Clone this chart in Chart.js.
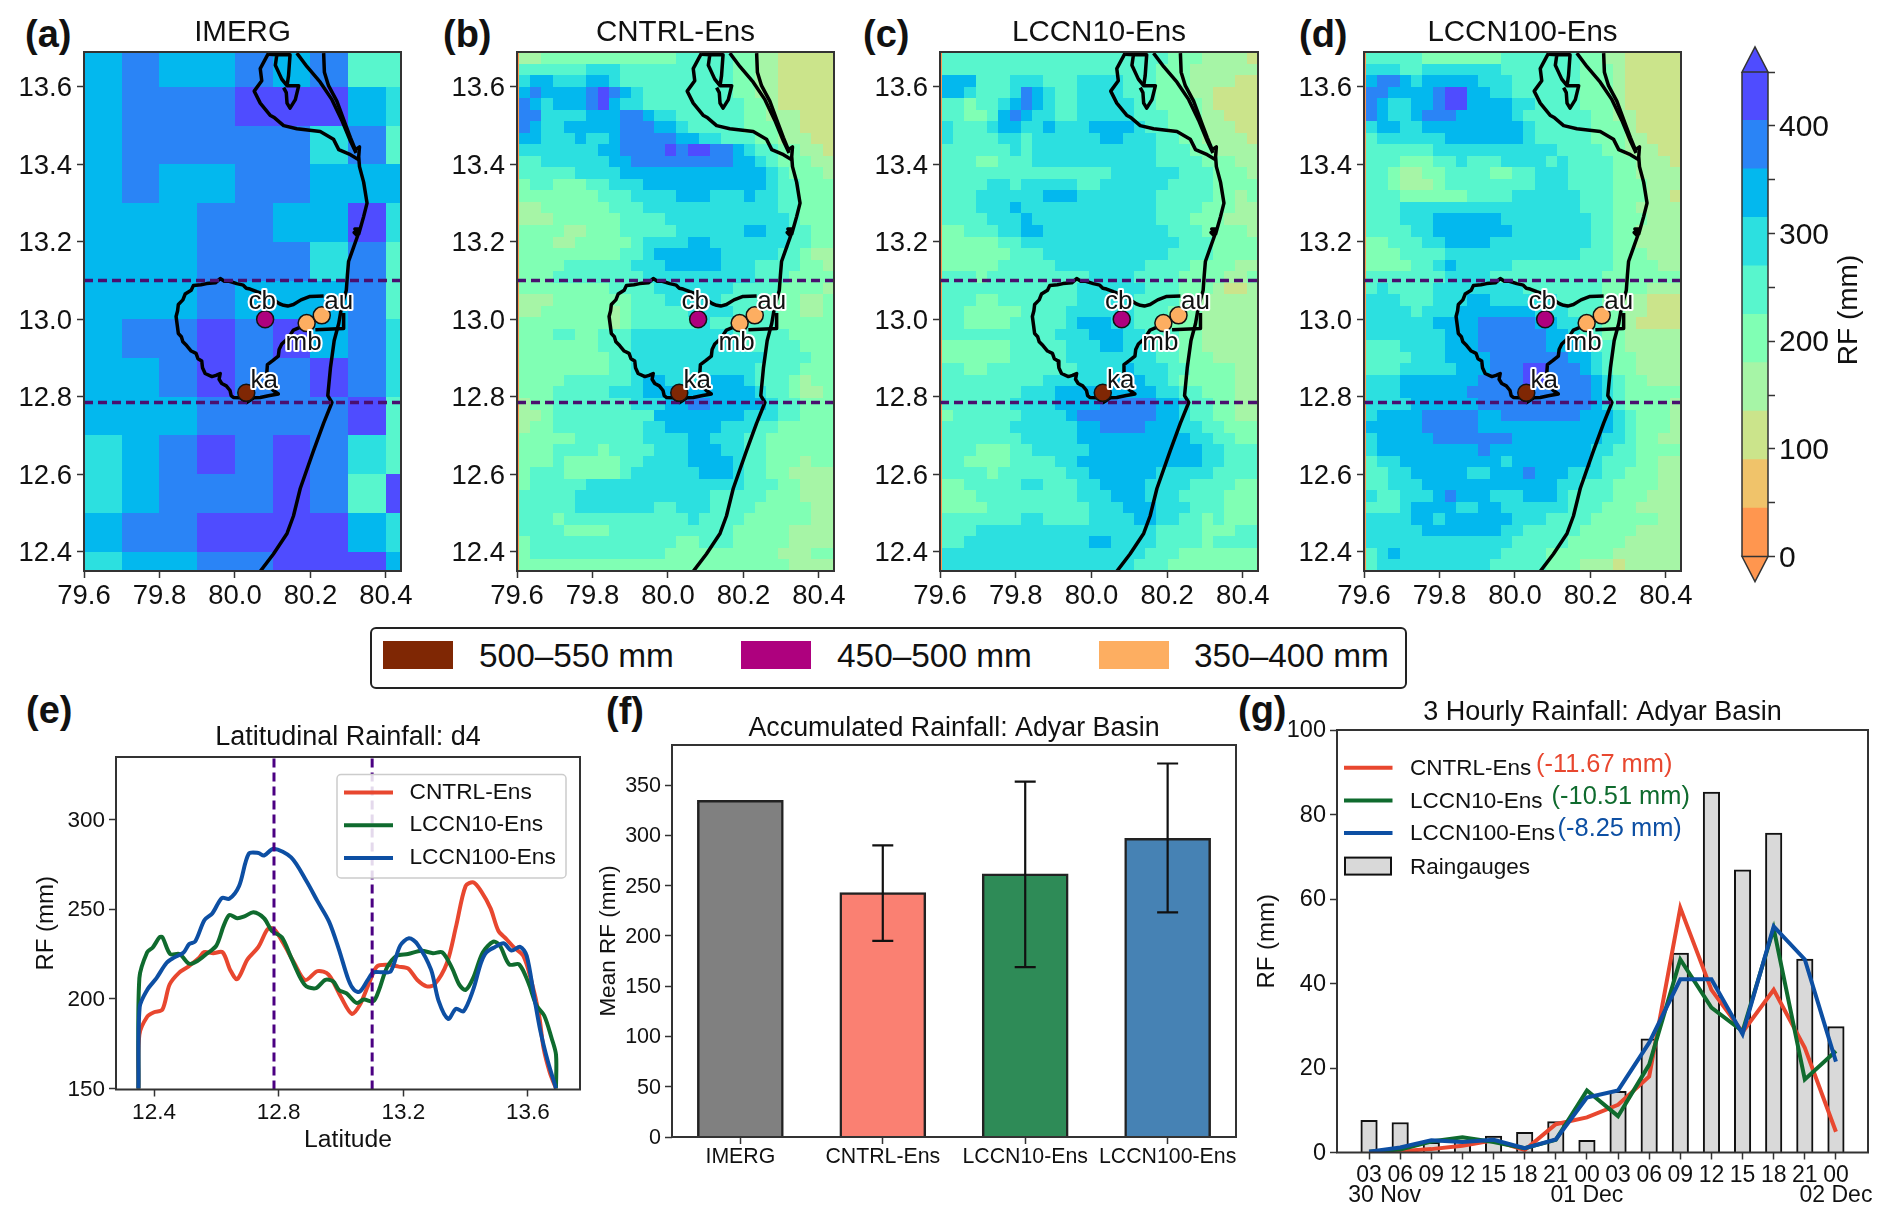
<!DOCTYPE html>
<html>
<head>
<meta charset="utf-8">
<script src="https://cdn.jsdelivr.net/npm/chart.js@4/dist/chart.umd.min.js"></script>
<style>
  html, body { margin: 0; padding: 0; background: #fff; width: 1892px; height: 1224px; overflow: hidden; }
  body { position: relative; font-family: "Liberation Sans", sans-serif; color: #111; }
  .tag { position: absolute; font-weight: bold; font-size: 38px; line-height: 40px; }
  #legend { position: absolute; left: 370px; top: 627px; width: 1033px; height: 58px; border: 2px solid #222; border-radius: 6px; box-sizing: content-box; }
  #legend i { position: absolute; top: 12px; width: 70px; height: 28px; }
  #legend span { position: absolute; top: 7px; font-size: 33.4px; line-height: 40px; white-space: nowrap; }
</style>
</head>
<body>
<div class="tag" style="left:25px;top:14px">(a)</div>
<div class="tag" style="left:443px;top:14px">(b)</div>
<div class="tag" style="left:863px;top:14px">(c)</div>
<div class="tag" style="left:1299px;top:14px">(d)</div>
<div class="tag" style="left:26px;top:690px">(e)</div>
<div class="tag" style="left:606px;top:691px">(f)</div>
<div class="tag" style="left:1238px;top:690px">(g)</div>
<div id="legend">
  <i style="left:11px;background:#7f2704"></i><span style="left:107px">500–550 mm</span>
  <i style="left:369px;background:#ae017e"></i><span style="left:465px">450–500 mm</span>
  <i style="left:727px;background:#fdae61"></i><span style="left:822px">350–400 mm</span>
</div>
<script>
Chart.defaults.font.family = '"Liberation Sans", Arial, sans-serif'
Chart.defaults.color = '#111'
Chart.defaults.animation = false

// colour bins of the maps, 45 mm wide
const rfLevels = [0, 45, 90, 135, 180, 225, 270, 315, 360, 405, 450]
const rfColors = ['#ff964f', '#f0c36a', '#cbe48b', '#a6f5a6', '#80ffb4', '#58f6cd', '#2ce0e0', '#03b8ee', '#2a84f6', '#4f4cff']

// IMERG cells (bin index per cell, north to south)
const imergLon = [79.6, 79.7, 79.8, 79.9, 80.0, 80.1, 80.2, 80.3, 80.4, 80.44]
const imergLat = [13.69, 13.6, 13.5, 13.4, 13.3, 13.2, 13.1, 13.0, 12.9, 12.8, 12.7, 12.6, 12.5, 12.4, 12.35]
const imergBins = [
  '787787855',
  '788899976',
  '788888685',
  '787788777',
  '777887796',
  '777888685',
  '777877785',
  '788989786',
  '778988986',
  '777888895',
  '678989865',
  '678889859',
  '788999976',
  '677889997',
]

// model runs, 28 columns x 45 rows
const cntrlBins = [
  '3344444 4444444 5555544 3322222',
  '5555556 6655555 5555544 3322222',
  '6776667 7655555 5555544 3322222',
  '7877778 9876555 5555544 3322222',
  '8767778 9766555 5555554 4322222',
  '8866667 7788766 5555554 4333222',
  '8766777 7788877 6555554 4433222',
  '7766676 6788888 7766555 4433322',
  '6666666 7788889 8998876 5544332',
  '5566666 6778888 8888877 6544433',
  '5555566 6677777 7777777 7654443',
  '4554445 5666777 7777777 7655444',
  '4444444 5556666 7776667 6655444',
  '3344444 4555666 6666666 6655444',
  '3334444 4455556 6666666 6665444',
  '4444334 4455555 6666667 7665544',
  '4443344 4445666 6776666 6665544',
  '4444444 4455677 7777666 6655433',
  '4444555 5556667 7777666 5555443',
  '4445555 5555666 6666666 5554444',
  '4444444 4555566 6666655 5544443',
  '3334444 4445556 6666555 5444334',
  '3344444 4345555 5666655 5544334',
  '4444444 4345555 5565555 5544444',
  '4445544 5556666 6666655 5554444',
  '4444444 5556666 6666665 5555444',
  '4444444 4556666 6666666 6555544',
  '4444444 4556666 6666666 5555444',
  '4444555 5556776 6667776 5554344',
  '4445555 5666777 7777777 6554334',
  '3445555 5556667 7887777 7655444',
  '3345555 5555577 7777776 6655444',
  '3445555 5555667 7777666 5544444',
  '4444455 5555666 6776665 5444444',
  '4445555 4555566 6777665 5444444',
  '4445444 4455666 6777765 5444344',
  '4555444 4456666 6677765 5443333',
  '4555556 6666666 6666665 5544333',
  '5555566 6666666 6665555 5444333',
  '5555566 6666655 6665555 4444433',
  '5554555 5555555 5655554 4444433',
  '5555444 4555555 5555544 4443333',
  '4555555 5555555 4455544 4443333',
  '4555555 5555554 4444444 4433344',
  '4444444 4444444 4444444 4443333',
]
const lccn10Bins = [
  '5555555 5555555 5555554 4433332',
  '5555555 5555555 5555544 4333333',
  '7775556 6655566 6655544 4333322',
  '7765556 8765566 6655544 4332222',
  '5545567 8765566 6665544 4432222',
  '5544578 7665566 6665554 4433222',
  '6555677 6676667 7776554 4433322',
  '6555566 5666666 7766655 4433332',
  '5555556 5666666 6666655 5443333',
  '5554455 5666666 6666655 5544433',
  '5555555 5555555 5666666 5554443',
  '5555665 6666655 6666665 5554444',
  '5556666 6677766 6666655 5554434',
  '5556667 6666666 6666655 5544433',
  '5555666 7666666 6666655 5444333',
  '4455566 7766666 6666665 5544443',
  '4444455 6666666 6666666 5554444',
  '4444445 5566666 6666665 5554444',
  '4444455 5556666 6666555 5444433',
  '5554555 5555556 6665555 4444334',
  '5555555 5555566 6666555 4443223',
  '5554455 5555566 6665555 4433333',
  '5544444 5555666 6665554 4433333',
  '5544445 5555677 7665554 4433333',
  '5555555 5556667 7766555 4433333',
  '4444445 5555666 7766655 4433333',
  '4444445 5555666 6666655 4443333',
  '5544555 5555566 6676665 5444433',
  '5555555 5566666 6777665 4444433',
  '5555555 6667777 7777766 5544433',
  '5555556 6667777 8888877 6554433',
  '4555555 6666788 8888877 6554433',
  '5555556 6666677 8888777 6655444',
  '5555555 6666677 7777777 7665544',
  '5554445 5666667 7777777 7766555',
  '5544445 5556677 7777777 7766555',
  '5555455 5555667 7777766 6665555',
  '4455555 6655566 7777666 6555544',
  '4445555 5555566 6777666 5555444',
  '4444555 5555556 6677766 6555444',
  '5555555 6655556 6667766 5545444',
  '5556666 6666666 6666655 5544455',
  '5566666 6666667 7666655 5545555',
  '6666666 6666666 6666555 4444444',
  '6666666 6666666 6665554 4444444',
]
const lccn100Bins = [
  '5555544 4444455 5555544 3322222',
  '6665566 6666655 5555544 4322222',
  '7887677 7776665 5555544 4322222',
  '8877778 9977665 5555544 4322222',
  '8766778 9977776 6555544 4322222',
  '8766788 8777776 5555554 4332222',
  '6776677 7777777 6555554 4432222',
  '5666666 7777777 6555554 4433222',
  '5555556 6666666 6665555 4433322',
  '5554445 5655566 6656555 5443332',
  '5543344 5555445 5666555 5443333',
  '5543334 5555555 5666555 5444333',
  '5554444 4455556 6666655 5444332',
  '5556666 6666666 6666655 5443333',
  '5556667 7777766 6666665 5444333',
  '5555667 7777776 6666665 5443333',
  '4455566 7777666 6666665 5443333',
  '4445555 6666666 6666655 5444333',
  '4444556 7666665 5555555 5444433',
  '5555555 6666555 5555555 4444444',
  '5655556 6666666 5555555 4444333',
  '6665556 6677666 6665555 4433222',
  '6666566 6777777 7666555 4433222',
  '6666667 7778888 8776655 4432222',
  '6666666 7778888 8877655 4433333',
  '5556666 7778888 8877765 5433333',
  '5555666 7777888 8888776 5443333',
  '5556666 6777888 9988876 5443333',
  '6667777 7778888 9988887 6544333',
  '6667777 7788888 8888887 6544444',
  '6666777 7778888 8888887 6544443',
  '6777788 8887788 8888877 7654443',
  '7777788 8887777 7777777 7654443',
  '6777778 8888887 7777777 6654433',
  '6777777 7778777 7777776 6554444',
  '5667777 7777767 7777776 5554433',
  '5566777 7766777 8777666 5544433',
  '5566677 7777777 7776655 5444433',
  '6556667 8777666 7776555 5444333',
  '5556777 7667766 6666555 4443333',
  '6666776 7777776 6655554 4444433',
  '6666677 7777766 5555544 4443333',
  '6666666 6666665 5555444 4433333',
  '5676666 6666655 5544444 4333333',
  '5666666 6666555 5544433 3233333',
]

// coastline and basin outline, degrees
const coastLon = [80.235, 80.237, 80.248, 80.27, 80.292, 80.306, 80.319, 80.33, 80.328, 80.33, 80.341, 80.35, 80.341, 80.328, 80.318, 80.33, 80.316, 80.325, 80.314, 80.301, 80.298, 80.295, 80.283, 80.275, 80.263, 80.253, 80.246, 80.257, 80.235, 80.208, 80.173, 80.155, 80.138, 80.102, 80.067]
const coastLat = [13.687, 13.638, 13.603, 13.563, 13.505, 13.469, 13.438, 13.445, 13.42, 13.394, 13.354, 13.3, 13.265, 13.22, 13.233, 13.233, 13.224, 13.215, 13.185, 13.149, 13.114, 13.074, 13.034, 12.989, 12.945, 12.874, 12.803, 12.785, 12.732, 12.66, 12.563, 12.492, 12.447, 12.394, 12.349]
const lagoonLon = [80.089, 80.067, 80.071, 80.051, 80.067, 80.093, 80.105, 80.129, 80.164, 80.198, 80.226, 80.261, 80.275, 80.306, 80.328]
const lagoonLat = [13.687, 13.647, 13.616, 13.589, 13.558, 13.527, 13.52, 13.5, 13.492, 13.488, 13.485, 13.465, 13.438, 13.425, 13.412]
const spitLon = [80.164, 80.191, 80.226, 80.257, 80.283, 80.306, 80.321]
const spitLat = [13.687, 13.652, 13.612, 13.567, 13.514, 13.46, 13.429]
const islandLon = [80.089, 80.111, 80.107, 80.124, 80.138, 80.169, 80.16, 80.146, 80.138, 80.136, 80.129]
const islandLat = [13.684, 13.683, 13.656, 13.62, 13.603, 13.603, 13.567, 13.545, 13.558, 13.585, 13.598]
const islandTopLon = [80.111, 80.146, 80.142, 80.138]
const islandTopLat = [13.683, 13.683, 13.629, 13.603]
const basinLon = [80.235, 80.199, 80.175, 80.155, 80.14, 80.129, 80.118, 80.107, 80.09, 80.076, 80.058, 80.04, 80.03, 80.022, 80.005, 79.985, 79.972, 79.961, 79.948, 79.925, 79.91, 79.89, 79.884, 79.868, 79.862, 79.85, 79.848, 79.844, 79.847, 79.85, 79.858, 79.862, 79.872, 79.884, 79.897, 79.902, 79.912, 79.914, 79.921, 79.939, 79.95, 79.961, 79.958, 79.965, 79.977, 79.987, 79.99, 79.996, 80.015, 80.031, 80.05, 80.067, 80.092, 80.115, 80.102, 80.089, 80.084, 80.086, 80.1, 80.115, 80.117, 80.124, 80.14, 80.155, 80.175, 80.195]
const basinLat = [13.06, 13.059, 13.05, 13.038, 13.034, 13.036, 13.04, 13.047, 13.058, 13.065, 13.071, 13.078, 13.08, 13.088, 13.092, 13.098, 13.098, 13.105, 13.094, 13.092, 13.089, 13.087, 13.075, 13.065, 13.05, 13.038, 13.022, 13.007, 12.985, 12.963, 12.955, 12.942, 12.932, 12.918, 12.912, 12.898, 12.892, 12.875, 12.86, 12.852, 12.855, 12.86, 12.845, 12.834, 12.828, 12.816, 12.803, 12.798, 12.797, 12.785, 12.797, 12.798, 12.803, 12.807, 12.816, 12.829, 12.855, 12.883, 12.893, 12.905, 12.922, 12.936, 12.95, 12.972, 12.98, 12.988]
const cityBoxLon = [80.213, 80.288, 80.288]
const cityBoxLat = [12.973, 12.976, 13.016]
const latBandEdges = [12.785, 13.1]

// raingauge stations
const stationNames = ['cb', 'ka', 'mb', 'au']
const stationLon = [80.08, 80.03, 80.19, 80.23]
const stationLat = [13.0, 12.81, 12.99, 13.01]
const stationColors = ['#ae017e', '#7f2704', '#fdae61', '#fdae61']

// (e) latitudinal rainfall
const cntrlLat = [12.35, 12.353, 12.378, 12.4, 12.427, 12.45, 12.48, 12.51, 12.545, 12.56, 12.59, 12.62, 12.645, 12.667, 12.7, 12.735, 12.765, 12.785, 12.815, 12.85, 12.885, 12.925, 12.96, 13.0, 13.035, 13.06, 13.09, 13.115, 13.145, 13.185, 13.215, 13.245, 13.275, 13.3, 13.34, 13.37, 13.4, 13.425, 13.45, 13.48, 13.505, 13.53, 13.555, 13.585, 13.61, 13.635, 13.65, 13.67, 13.69]
const cntrlLatRf = [150, 180, 190, 192.5, 194, 208, 214.5, 218, 223, 226, 225.5, 226, 216, 211, 222, 229, 239, 239, 231, 220, 210.5, 215.5, 213.5, 201, 191.6, 196.5, 208.7, 218, 219, 218, 217, 210.5, 207, 208, 220, 241, 263, 265, 260, 250.5, 238, 233.5, 228.7, 224, 210.6, 191.6, 172.6, 159, 150]
const lccn10Lat = [12.35, 12.353, 12.378, 12.396, 12.418, 12.427, 12.452, 12.482, 12.513, 12.538, 12.568, 12.6, 12.624, 12.642, 12.667, 12.69, 12.719, 12.753, 12.778, 12.81, 12.84, 12.87, 12.889, 12.92, 12.95, 12.975, 12.993, 13.018, 13.05, 13.073, 13.104, 13.122, 13.147, 13.178, 13.215, 13.258, 13.295, 13.325, 13.356, 13.38, 13.4, 13.424, 13.455, 13.489, 13.51, 13.54, 13.572, 13.602, 13.627, 13.652, 13.676, 13.69, 13.69]
const lccn10LatRf = [150, 211.6, 226, 228.7, 234.4, 234.4, 225, 225, 219.6, 221, 225, 229.7, 241, 246.8, 245, 246, 248.3, 245, 238, 234.4, 223, 211.6, 207, 206, 210.6, 209.7, 205, 203, 197.7, 199.6, 198.7, 205, 217.3, 224, 225, 226.8, 225.5, 225.9, 217.3, 207.8, 205, 211.6, 225.9, 232, 229.7, 219.2, 219.2, 208.7, 196.4, 190.7, 178, 168.8, 150]
const lccn100Lat = [12.35, 12.354, 12.378, 12.408, 12.44, 12.464, 12.495, 12.513, 12.532, 12.562, 12.587, 12.618, 12.642, 12.673, 12.704, 12.735, 12.753, 12.784, 12.84, 12.889, 12.925, 12.962, 12.993, 13.024, 13.042, 13.06, 13.086, 13.104, 13.135, 13.16, 13.19, 13.218, 13.245, 13.289, 13.313, 13.344, 13.369, 13.393, 13.424, 13.449, 13.467, 13.492, 13.522, 13.547, 13.575, 13.596, 13.62, 13.64, 13.664, 13.69]
const lccn100LatRf = [150, 195.4, 205, 211.6, 220, 223, 225.9, 230.6, 232, 244, 247.7, 256.3, 255.9, 263, 281, 281.4, 280, 283.8, 279, 265.8, 254.4, 243, 227.8, 210.6, 205, 204, 210.6, 214.8, 214.8, 215.4, 229.7, 233.8, 230.6, 216.3, 199, 188.8, 194.5, 193, 205, 220, 226, 228.7, 231, 227, 229, 224, 201, 182, 165, 150]
const seriesNames = ['CNTRL-Ens', 'LCCN10-Ens', 'LCCN100-Ens']
const seriesColors = ['#e8472f', '#0f6b2e', '#0d4fa3']

// (f) accumulated rainfall
const basinRuns = ['IMERG', 'CNTRL-Ens', 'LCCN10-Ens', 'LCCN100-Ens']
const basinMean = [334.8, 243, 261.6, 297]
const basinErrLow = [null, 195, 169, 223.3]
const basinErrHigh = [null, 290, 353.4, 371.4]
const basinColors = ['#808080', '#fa8072', '#2e8b57', '#4682b4']

// (g) 3 hourly rainfall
const hourLabels = ['03', '06', '09', '12', '15', '18', '21', '00', '03', '06', '09', '12', '15', '18', '21', '00']
const dayLabels = ['30 Nov', '01 Dec', '02 Dec']
const dayTicks = [0.5, 7, 15]
const gaugeRain = [7.6, 7.1, 2.4, 2.7, 3.9, 4.8, 7.3, 2.9, 14.5, 26.9, 47.2, 85.3, 66.9, 75.6, 45.8, 29.8]
const cntrlRain = [0.2, 0.3, 0.8, 1.6, 2.9, 0.6, 6.7, 8.3, 11.3, 18, 57.9, 38.5, 28.5, 38.5, 24.8, 4.9]
const lccn10Rain = [0.2, 0.7, 2.6, 3.6, 2.5, 1, 3, 14.7, 8.6, 20.8, 45.7, 34.3, 28.7, 53, 17.3, 24]
const lccn100Rain = [0.2, 1.2, 2.9, 2.5, 3, 1, 3.1, 13, 14.7, 26, 41, 41, 28, 53.5, 45.7, 21.5]
const biasLabels = ['(-11.67 mm)', '(-10.51 mm)', '(-8.25 mm)']

const zip = (xs, ys) => xs.map((x, i) => ({ x, y: ys[i] }))

const addCanvas = (l, t, r, b) => {
  const c = document.createElement('canvas')
  c.width = r - l
  c.height = b - t
  c.style.cssText = `position:absolute;left:${l}px;top:${t}px`
  document.body.appendChild(c)
  return c
}

const axis = (min, max, tickValues, fmt, size, fontSize, padding, extra) => ({
  type: 'linear',
  min,
  max,
  offset: false,
  afterBuildTicks: (s) => { s.ticks = tickValues.map((value) => ({ value })) },
  afterFit: (s) => { if (s.isHorizontal()) s.height = size; else s.width = size },
  ticks: { callback: fmt, font: { size: fontSize }, color: '#111', padding, maxRotation: 0, autoSkip: false },
  grid: { offset: false, drawOnChartArea: false, tickLength: 7, tickWidth: 1.5, tickColor: '#333' },
  border: { display: false },
  ...extra,
})
const yNudge = (px, ax) => { ax.ticks.labelOffset = px; return ax }

const titleCfg = (text, size, cy, plotTop, marginTop) => {
  const bottom = Math.max(0, plotTop - cy - 0.6 * size)
  return { display: true, text, fullSize: false, color: '#111', font: { size, weight: 'normal', lineHeight: 1.2 }, padding: { top: marginTop - 1.2 * size - bottom, bottom } }
}

const frame = {
  id: 'frame',
  afterDatasetsDraw: (chart) => {
    const { ctx, chartArea: a } = chart
    ctx.save()
    ctx.strokeStyle = '#333'
    ctx.lineWidth = 2
    ctx.strokeRect(a.left, a.top, a.right - a.left, a.bottom - a.top)
    ctx.restore()
  },
}

const cells = {
  id: 'cells',
  beforeDatasetsDraw: (chart, args, opts) => {
    const { ctx, scales: { x, y } } = chart
    opts.rows.forEach((row, r) => {
      const top = Math.round(y.getPixelForValue(opts.lat[r]))
      const bottom = Math.round(y.getPixelForValue(opts.lat[r + 1]))
      row.split('').forEach((bin, c) => {
        const left = Math.round(x.getPixelForValue(opts.lon[c]))
        const right = Math.round(x.getPixelForValue(opts.lon[c + 1]))
        ctx.fillStyle = rfColors[+bin]
        ctx.fillRect(left, top, right - left, bottom - top)
      })
    })
  },
}

const labelOffsets = [[-3, -17], [18, -12], [-3, 20], [17, -14]]
const stationText = {
  id: 'stationText',
  afterDatasetsDraw: (chart) => {
    const { ctx, scales: { x, y } } = chart
    ctx.save()
    ctx.font = '26px "Liberation Sans"'
    ctx.textAlign = 'center'
    ctx.textBaseline = 'middle'
    ctx.lineJoin = 'round'
    stationNames.forEach((name, i) => {
      const px = x.getPixelForValue(stationLon[i]) + labelOffsets[i][0]
      const py = y.getPixelForValue(stationLat[i]) + labelOffsets[i][1]
      ctx.strokeStyle = '#fff'
      ctx.lineWidth = 4
      ctx.strokeText(name, px, py)
      ctx.fillStyle = '#111'
      ctx.fillText(name, px, py)
    })
    ctx.restore()
  },
}

const outline = (lon, lat) => ({ data: zip(lon, lat), showLine: true, borderColor: '#000', borderWidth: 3.5, borderJoinStyle: 'round', pointRadius: 0, tension: 0 })

const drawMap = (title, rows, lon, lat, left, right) => {
  const top = 52, bottom = 571
  const canvas = addCanvas(left - 70, top - 45, right + 20, bottom + 45)
  new Chart(canvas, {
    type: 'scatter',
    data: {
      datasets: [
        { data: zip(stationLon, stationLat), pointRadius: 8.5, pointBackgroundColor: stationColors, pointBorderColor: '#111', pointBorderWidth: 1.5, showLine: false },
        ...latBandEdges.map((v) => ({ data: zip([79.6, 80.44], [v, v]), showLine: true, borderColor: '#4a0f6f', borderWidth: 3.5, borderDash: [9, 5], pointRadius: 0 })),
        outline(coastLon, coastLat),
        outline(lagoonLon, lagoonLat),
        outline(spitLon, spitLat),
        outline(islandLon, islandLat),
        outline(islandTopLon, islandTopLat),
        outline(basinLon, basinLat),
        outline(cityBoxLon, cityBoxLat),
      ],
    },
    options: {
      responsive: false,
      layout: { padding: { right: 20 }, autoPadding: false },
      scales: {
        x: axis(79.6, 80.44, [79.6, 79.8, 80.0, 80.2, 80.4], (v) => v.toFixed(1), 45, 27.5, 2),
        y: yNudge(2, axis(12.35, 13.69, [12.4, 12.6, 12.8, 13.0, 13.2, 13.4, 13.6], (v) => v.toFixed(1), 70, 27.5, 5)),
      },
      plugins: {
        legend: { display: false },
        tooltip: { enabled: false },
        title: titleCfg(title, 29.5, 32.6, top, 45),
        cells: { rows, lon, lat },
      },
    },
    plugins: [cells, frame, stationText],
  })
}

// model grids share their edges, plus the thin strip along the west side
const modelLon = [79.6, ...Array.from({ length: 29 }, (_, i) => 79.605 + i * (80.44 - 79.605) / 28)]
const modelLat = Array.from({ length: 46 }, (_, i) => 13.69 - i * (13.69 - 12.35) / 45)
const modelRows = (rows) => rows.map((r) => '0' + r.replace(/ /g, ''))

drawMap('IMERG', imergBins, imergLon, imergLat, 84, 401)
drawMap('CNTRL-Ens', modelRows(cntrlBins), modelLon, modelLat, 517, 834)
drawMap('LCCN10-Ens', modelRows(lccn10Bins), modelLon, modelLat, 940, 1258)
drawMap('LCCN100-Ens', modelRows(lccn100Bins), modelLon, modelLat, 1364, 1681)

// colour bar
const barCaps = {
  id: 'barCaps',
  afterDatasetsDraw: (chart) => {
    const { ctx, chartArea: a, scales: { y } } = chart
    const tips = [[y.getPixelForValue(450), -25, rfColors[9]], [y.getPixelForValue(0), 25, rfColors[0]]]
    tips.forEach(([base, h, color]) => {
      ctx.beginPath()
      ctx.moveTo(a.left, base)
      ctx.lineTo((a.left + a.right) / 2, base + h)
      ctx.lineTo(a.right, base)
      ctx.closePath()
      ctx.fillStyle = color
      ctx.fill()
      ctx.strokeStyle = '#333'
      ctx.lineWidth = 1.5
      ctx.stroke()
    })
    ctx.save()
    ctx.translate(1849.5 - 1732, 310 - 42)
    ctx.rotate(-Math.PI / 2)
    ctx.font = '28px "Liberation Sans"'
    ctx.fillStyle = '#111'
    ctx.textAlign = 'center'
    ctx.textBaseline = 'middle'
    ctx.fillText('RF (mm)', 0, 0)
    ctx.restore()
    ctx.strokeStyle = '#333'
    ctx.lineWidth = 1.5
    ctx.beginPath()
    ctx.moveTo(a.left, a.top)
    ctx.lineTo(a.left, a.bottom)
    ctx.moveTo(a.right, a.top)
    ctx.lineTo(a.right, a.bottom)
    ctx.stroke()
  },
}

new Chart(addCanvas(1732, 42, 1892, 587), {
  type: 'bar',
  data: {
    labels: [''],
    datasets: rfColors.map((c, i) => ({ data: [[rfLevels[i], rfLevels[i + 1]]], backgroundColor: c, barPercentage: 1, categoryPercentage: 1, borderWidth: 0 })),
  },
  options: {
    responsive: false,
    layout: { padding: { left: 10, top: 30, bottom: 30.5 }, autoPadding: false },
    scales: {
      x: { display: false, stacked: true },
      y: yNudge(2, axis(0, 450, [0, 50, 100, 150, 200, 250, 300, 350, 400, 450], (v) => (v % 100 === 0 ? v : ''), 124, 30, 4, { position: 'right' })),
    },
    plugins: { legend: { display: false }, tooltip: { enabled: false } },
  },
  plugins: [barCaps],
})

// helpers for the hand placed legends
const put = (ctx, text, x, y, size, color) => {
  ctx.font = `${size}px "Liberation Sans"`
  ctx.fillStyle = color
  ctx.textAlign = 'left'
  ctx.textBaseline = 'middle'
  ctx.fillText(text, x, y)
}
const swatchLine = (ctx, x0, x1, y, color) => {
  ctx.strokeStyle = color
  ctx.lineWidth = 4
  ctx.beginPath()
  ctx.moveTo(x0, y)
  ctx.lineTo(x1, y)
  ctx.stroke()
}

// (e)
const eOrigin = [0, 717]
const eLegend = {
  id: 'eLegend',
  afterDatasetsDraw: (chart) => {
    const { ctx } = chart
    ctx.save()
    ctx.fillStyle = 'rgba(255,255,255,0.85)'
    ctx.strokeStyle = '#ccc'
    ctx.lineWidth = 1.5
    ctx.beginPath()
    ctx.roundRect(337, 774.5 - eOrigin[1], 229, 103.5, 4)
    ctx.fill()
    ctx.stroke()
    seriesNames.forEach((name, i) => {
      const y = 792.5 + 32.7 * i - eOrigin[1]
      swatchLine(ctx, 344, 393, y, seriesColors[i])
      put(ctx, name, 409.5, y, 22.7, '#111')
    })
    ctx.restore()
  },
}
const latLine = (xs, ys, color) => ({ data: zip(xs, ys), showLine: true, borderColor: color, borderWidth: 4, pointRadius: 0, tension: 0.3 })
new Chart(addCanvas(0, eOrigin[1], 600, 1160), {
  type: 'scatter',
  data: {
    datasets: [
      ...latBandEdges.map((v) => ({ data: zip([v, v], [149.4, 335]), showLine: true, borderColor: '#4b0082', borderWidth: 3, borderDash: [9, 5], pointRadius: 0 })),
      latLine(lccn100Lat, lccn100LatRf, seriesColors[2]),
      latLine(lccn10Lat, lccn10LatRf, seriesColors[1]),
      latLine(cntrlLat, cntrlLatRf, seriesColors[0]),
    ],
  },
  options: {
    responsive: false,
    layout: { padding: { right: 20 }, autoPadding: false },
    scales: {
      x: axis(12.278, 13.767, [12.4, 12.8, 13.2, 13.6], (v) => v.toFixed(1), 70.5, 22.5, 3, {
        title: { display: true, text: 'Latitude', font: { size: 24.7, lineHeight: 1.2 }, color: '#111', padding: { top: 0, bottom: 5 } },
      }),
      y: yNudge(1, axis(149.4, 335, [150, 200, 250, 300], (v) => v, 116, 22.5, 4, {
        title: { display: true, text: 'RF (mm)', font: { size: 24, lineHeight: 1.2 }, color: '#111', padding: { top: 32, bottom: 0 } },
      })),
    },
    plugins: { legend: { display: false }, tooltip: { enabled: false }, title: titleCfg('Latitudinal Rainfall: d4', 27, 737.7, 757, 40) },
  },
  plugins: [frame, eLegend],
})

// (f)
const errorBars = {
  id: 'errorBars',
  afterDatasetsDraw: (chart) => {
    const { ctx, scales: { x, y } } = chart
    ctx.save()
    ctx.strokeStyle = '#111'
    ctx.lineWidth = 2.2
    basinRuns.forEach((_, i) => {
      if (basinErrLow[i] === null) return
      const px = x.getPixelForValue(i)
      const lo = y.getPixelForValue(basinErrLow[i])
      const hi = y.getPixelForValue(basinErrHigh[i])
      ctx.beginPath()
      ctx.moveTo(px, lo)
      ctx.lineTo(px, hi)
      ctx.moveTo(px - 10.5, lo)
      ctx.lineTo(px + 10.5, lo)
      ctx.moveTo(px - 10.5, hi)
      ctx.lineTo(px + 10.5, hi)
      ctx.stroke()
    })
    ctx.restore()
  },
}
new Chart(addCanvas(590, 705, 1250, 1190), {
  type: 'bar',
  data: {
    datasets: [{
      data: zip(basinRuns.map((_, i) => i), basinMean),
      backgroundColor: basinColors,
      borderColor: '#222',
      borderWidth: 2.5,
      barThickness: 86,
    }],
  },
  options: {
    responsive: false,
    layout: { padding: { right: 14 }, autoPadding: false },
    scales: {
      x: axis(-0.48, 3.48, [0, 1, 2, 3], (v) => basinRuns[v], 53, 21.3, 0),
      y: yNudge(1, axis(0, 389.8, [0, 50, 100, 150, 200, 250, 300, 350], (v) => v, 82, 21.5, 4, {
        title: { display: true, text: 'Mean RF (mm)', font: { size: 22.5, lineHeight: 1.2 }, color: '#111', padding: { top: 5, bottom: 0 } },
      })),
    },
    plugins: { legend: { display: false }, tooltip: { enabled: false }, title: titleCfg('Accumulated Rainfall: Adyar Basin', 26.8, 729.5, 745, 40) },
  },
  plugins: [errorBars, frame],
})

// (g)
const gOrigin = [1252, 690]
const gLegend = {
  id: 'gLegend',
  afterDatasetsDraw: (chart) => {
    const { ctx, scales: { x } } = chart
    ctx.save()
    const biasX = [1536, 1551.6, 1557.6]
    const biasY = [764, 796, 828]
    seriesNames.forEach((name, i) => {
      const y = 767.7 + 32.7 * i - gOrigin[1]
      swatchLine(ctx, 1344 - gOrigin[0], 1392.5 - gOrigin[0], y, seriesColors[i])
      put(ctx, name, 1410 - gOrigin[0], y + 1, 22.5, '#111')
      put(ctx, biasLabels[i], biasX[i] - gOrigin[0], biasY[i] - gOrigin[1] + 1, 25.4, seriesColors[i])
    })
    ctx.fillStyle = '#d9d9d9'
    ctx.strokeStyle = '#111'
    ctx.lineWidth = 2
    ctx.fillRect(1345 - gOrigin[0], 857.6 - gOrigin[1], 46, 17)
    ctx.strokeRect(1345 - gOrigin[0], 857.6 - gOrigin[1], 46, 17)
    put(ctx, 'Raingauges', 1410 - gOrigin[0], 867.4 - gOrigin[1], 22.5, '#111')
    dayLabels.forEach((day, i) => {
      ctx.font = '23px "Liberation Sans"'
      ctx.fillStyle = '#111'
      ctx.textAlign = 'center'
      ctx.textBaseline = 'middle'
      ctx.fillText(day, x.getPixelForValue(dayTicks[i]), 1196 - gOrigin[1])
    })
    ctx.restore()
  },
}
const rainLine = (values, color, order) => ({ type: 'line', data: zip(hourLabels.map((_, i) => i), values), borderColor: color, borderWidth: 4, pointRadius: 0, order, tension: 0 })
new Chart(addCanvas(gOrigin[0], gOrigin[1], 1892, 1224), {
  type: 'bar',
  data: {
    datasets: [
      rainLine(lccn100Rain, seriesColors[2], 0),
      rainLine(lccn10Rain, seriesColors[1], 1),
      rainLine(cntrlRain, seriesColors[0], 2),
      { data: zip(hourLabels.map((_, i) => i), gaugeRain), backgroundColor: '#d9d9d9', borderColor: '#111', borderWidth: 2, barThickness: 16.5, order: 3 },
    ],
  },
  options: {
    responsive: false,
    layout: { padding: { right: 24 }, autoPadding: false },
    scales: {
      x: axis(-1.03, 16.03, hourLabels.map((_, i) => i), (v) => hourLabels[v], 71.5, 23, 2),
      y: yNudge(1, axis(0, 100, [0, 20, 40, 60, 80, 100], (v) => v, 85, 23.5, 4, {
        title: { display: true, text: 'RF (mm)', font: { size: 24, lineHeight: 1.2 }, color: '#111', padding: { top: 1, bottom: 0 } },
      })),
    },
    plugins: { legend: { display: false }, tooltip: { enabled: false }, title: titleCfg('3 Hourly Rainfall: Adyar Basin', 27, 713, 730, 40) },
  },
  plugins: [frame, gLegend],
})
</script>
</body>
</html>
